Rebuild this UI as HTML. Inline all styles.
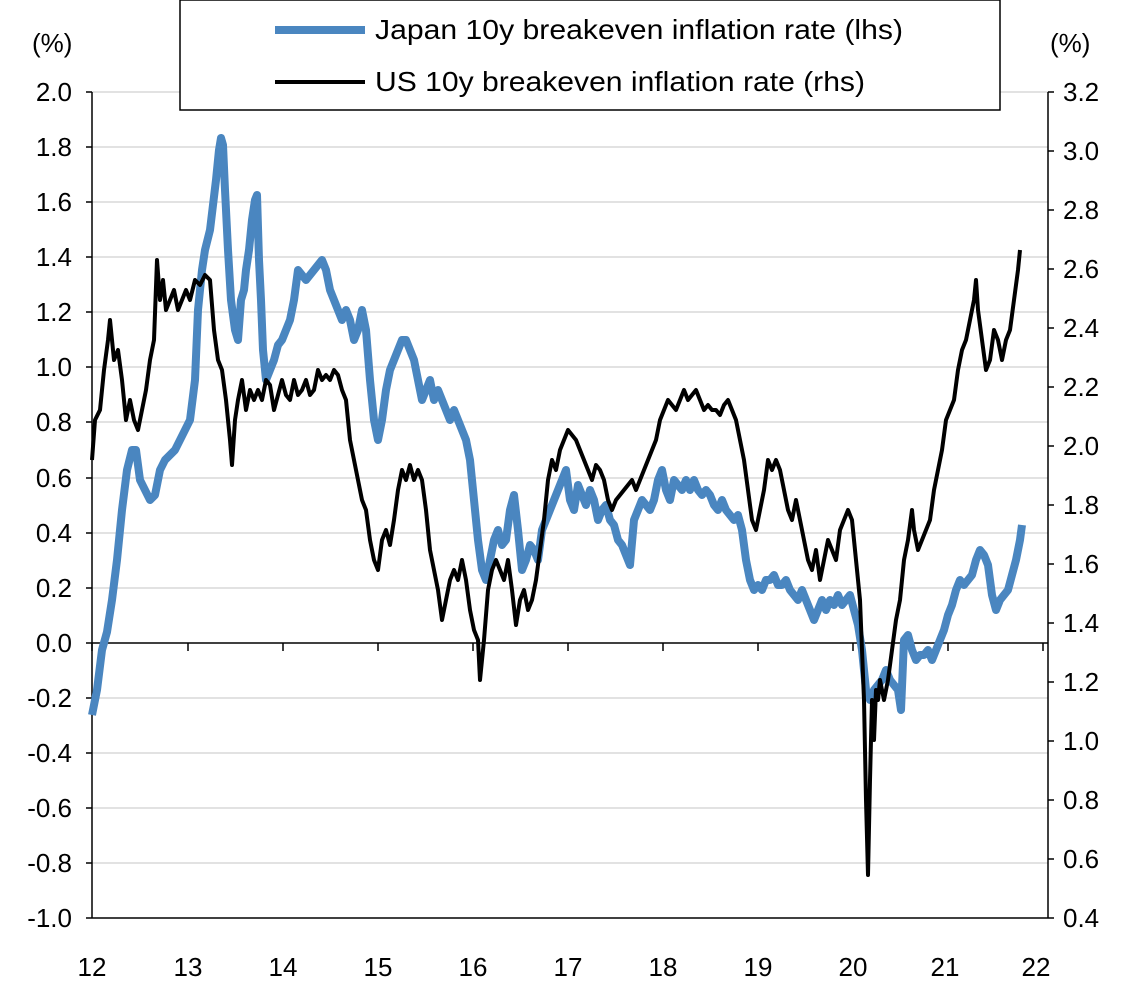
<!DOCTYPE html>
<html><head><meta charset="utf-8"><style>
html,body{margin:0;padding:0;background:#fff;}
svg{display:block;}
text{font-family:"Liberation Sans",Arial,sans-serif;fill:#000;}
</style></head><body>
<svg width="1129" height="994" viewBox="0 0 1129 994">
<g stroke="#d9d9d9" stroke-width="1.5">
<line x1="92" y1="92" x2="1048" y2="92"/><line x1="92" y1="147" x2="1048" y2="147"/><line x1="92" y1="202" x2="1048" y2="202"/><line x1="92" y1="257" x2="1048" y2="257"/><line x1="92" y1="312" x2="1048" y2="312"/><line x1="92" y1="367" x2="1048" y2="367"/><line x1="92" y1="422" x2="1048" y2="422"/><line x1="92" y1="478" x2="1048" y2="478"/><line x1="92" y1="533" x2="1048" y2="533"/><line x1="92" y1="588" x2="1048" y2="588"/><line x1="92" y1="698" x2="1048" y2="698"/><line x1="92" y1="753" x2="1048" y2="753"/><line x1="92" y1="808" x2="1048" y2="808"/><line x1="92" y1="863" x2="1048" y2="863"/>
</g>
<g stroke="#000" stroke-width="1.5" fill="none">
<line x1="92" y1="92" x2="92" y2="918"/><line x1="1048" y1="92" x2="1048" y2="918"/>
<line x1="92" y1="643" x2="1048" y2="643"/>
<line x1="92" y1="918" x2="1048" y2="918"/>
<path d="M86 92h6M86 147h6M86 202h6M86 257h6M86 312h6M86 367h6M86 422h6M86 478h6M86 533h6M86 588h6M86 643h6M86 698h6M86 753h6M86 808h6M86 863h6M86 918h6"/>
<path d="M1048 92h6M1048 151h6M1048 210h6M1048 269h6M1048 328h6M1048 387h6M1048 446h6M1048 505h6M1048 564h6M1048 623h6M1048 682h6M1048 741h6M1048 800h6M1048 859h6M1048 918h6"/>
<path d="M92 643v8M188 643v8M283 643v8M378 643v8M473 643v8M568 643v8M663 643v8M758 643v8M853 643v8M948 643v8M1043 643v8"/>
</g>
<polyline fill="none" stroke="#4a86c0" stroke-width="8" stroke-linejoin="round" points="92,715 97,690 102,650 107,632 112,600 117,560 122,510 127,470 132,450 136,450 140,480 145,490 150,500 155,495 160,470 165,460 170,455 175,450 180,440 185,430 190,420 195,380 198,310 202,270 205,250 210,230 213,205 216,180 219,150 221,138 223,145 225,190 228,250 231,300 235,330 238,340 241,300 244,290 246,270 249,250 252,220 255,200 257,195 259,260 261,300 263,350 266,380 270,370 274,360 278,345 282,340 286,330 290,320 294,300 298,270 302,275 306,280 310,275 314,270 318,265 322,260 326,270 330,290 334,300 338,310 342,320 346,310 350,320 354,340 358,330 362,310 366,330 370,380 374,420 378,440 382,420 386,390 390,370 394,360 398,350 402,340 406,340 410,350 414,360 418,380 422,400 426,390 430,380 434,400 438,390 442,400 446,410 450,420 454,410 458,420 462,430 466,440 470,460 474,500 478,540 482,570 486,580 490,560 494,540 498,530 502,545 506,540 510,510 514,495 518,530 522,570 526,560 530,545 534,550 538,560 542,530 546,520 550,510 554,500 558,490 562,480 566,470 570,500 574,510 578,485 582,495 586,505 590,490 594,500 598,520 602,510 606,505 610,520 614,525 618,540 622,545 626,555 630,565 634,520 638,510 642,500 646,505 650,510 654,500 658,480 662,470 666,490 670,500 674,480 678,485 682,490 686,480 690,490 694,480 698,490 702,495 706,490 710,495 714,505 718,510 722,500 726,510 730,515 734,520 738,515 742,530 746,560 750,580 754,590 758,585 762,590 766,580 770,580 774,575 778,585 782,585 786,580 790,590 794,595 798,600 802,590 806,600 810,610 814,620 818,610 822,600 826,610 830,600 834,605 838,595 842,605 846,600 850,595 854,610 858,625 862,650 866,690 870,700 874,690 878,685 882,680 886,670 890,680 894,685 898,690 901,710 904,640 908,635 912,650 916,660 920,655 924,655 928,650 932,660 936,650 940,640 944,630 948,615 952,605 956,590 960,580 964,585 968,580 972,575 976,560 980,550 984,555 988,565 992,595 996,610 1000,600 1004,595 1008,590 1012,575 1016,560 1020,540 1022,525"/>
<polyline fill="none" stroke="#000" stroke-width="4" stroke-linejoin="round" points="92,460 95,420 100,410 104,370 108,340 110,320 114,360 118,350 122,380 126,420 130,400 134,420 138,430 142,410 146,390 150,360 154,340 157,260 160,300 163,280 166,310 170,300 174,290 178,310 182,300 186,290 190,300 195,280 200,285 205,275 210,280 214,330 218,360 222,370 226,400 230,440 232,465 235,420 238,400 242,380 246,410 250,390 254,400 258,390 262,400 266,380 270,385 274,410 278,395 282,380 286,395 290,400 294,380 298,395 302,390 306,380 310,395 314,390 318,370 322,380 326,375 330,380 334,370 338,375 342,390 346,400 350,440 354,460 358,480 362,500 366,510 370,540 374,560 378,570 382,540 386,530 390,545 394,520 398,490 402,470 406,480 410,465 414,480 418,470 422,480 426,510 430,550 434,570 438,590 442,620 446,600 450,580 454,570 458,580 462,560 466,580 470,610 474,630 478,640 480,680 484,640 488,590 492,570 496,560 500,570 504,580 508,560 512,590 516,625 520,600 524,590 528,610 532,600 536,580 540,550 544,520 548,480 552,460 556,470 560,450 564,440 568,430 572,435 576,440 580,450 584,460 588,470 592,480 596,465 600,470 604,480 608,500 612,510 616,500 620,495 624,490 628,485 632,480 636,490 640,480 644,470 648,460 652,450 656,440 660,420 664,410 668,400 672,405 676,410 680,400 684,390 688,400 692,395 696,390 700,400 704,410 708,405 712,410 716,410 720,415 724,405 728,400 732,410 736,420 740,440 744,460 748,490 752,520 756,530 760,510 764,490 768,460 772,470 776,460 780,470 784,490 788,510 792,520 796,500 800,520 804,540 808,560 812,570 816,550 820,580 824,560 828,540 832,550 836,560 840,530 844,520 848,510 852,520 856,560 860,600 864,700 866,800 868,875 870,780 872,700 874,740 876,690 878,700 880,680 884,700 888,680 892,650 896,620 900,600 904,560 908,540 912,510 914,530 918,550 922,540 926,530 930,520 934,490 938,470 942,450 946,420 950,410 954,400 958,370 962,350 966,340 970,320 974,300 976,280 978,310 982,340 986,370 990,360 994,330 998,340 1002,360 1006,340 1010,330 1014,300 1018,270 1020,250"/>
<rect x="180" y="0" width="820" height="110" fill="#fff" stroke="#000" stroke-width="1.5"/>
<line x1="275" y1="30" x2="365" y2="30" stroke="#4a86c0" stroke-width="8"/>
<line x1="275" y1="82" x2="365" y2="82" stroke="#000" stroke-width="4"/>
<text x="375" y="39" font-size="28" textLength="528" lengthAdjust="spacingAndGlyphs">Japan 10y breakeven inflation rate (lhs)</text>
<text x="375" y="91" font-size="28" textLength="490" lengthAdjust="spacingAndGlyphs">US 10y breakeven inflation rate (rhs)</text>
<text x="32" y="52" font-size="26">(%)</text>
<text x="1050" y="52" font-size="26">(%)</text>
<g text-anchor="end" font-size="26">
<text x="72" y="101">2.0</text><text x="72" y="156">1.8</text><text x="72" y="211">1.6</text><text x="72" y="266">1.4</text><text x="72" y="321">1.2</text><text x="72" y="376">1.0</text><text x="72" y="431">0.8</text><text x="72" y="487">0.6</text><text x="72" y="542">0.4</text><text x="72" y="597">0.2</text><text x="72" y="652">0.0</text><text x="72" y="707">-0.2</text><text x="72" y="762">-0.4</text><text x="72" y="817">-0.6</text><text x="72" y="872">-0.8</text><text x="72" y="927">-1.0</text>
</g>
<g font-size="26">
<text x="1063" y="101">3.2</text><text x="1063" y="160">3.0</text><text x="1063" y="219">2.8</text><text x="1063" y="278">2.6</text><text x="1063" y="337">2.4</text><text x="1063" y="396">2.2</text><text x="1063" y="455">2.0</text><text x="1063" y="514">1.8</text><text x="1063" y="573">1.6</text><text x="1063" y="632">1.4</text><text x="1063" y="691">1.2</text><text x="1063" y="750">1.0</text><text x="1063" y="809">0.8</text><text x="1063" y="868">0.6</text><text x="1063" y="927">0.4</text>
</g>
<g text-anchor="middle" font-size="26">
<text x="92" y="976">12</text><text x="188" y="976">13</text><text x="283" y="976">14</text><text x="378" y="976">15</text><text x="473" y="976">16</text><text x="568" y="976">17</text><text x="663" y="976">18</text><text x="758" y="976">19</text><text x="853" y="976">20</text><text x="945" y="976">21</text><text x="1036" y="976">22</text>
</g>
</svg>
</body></html>
